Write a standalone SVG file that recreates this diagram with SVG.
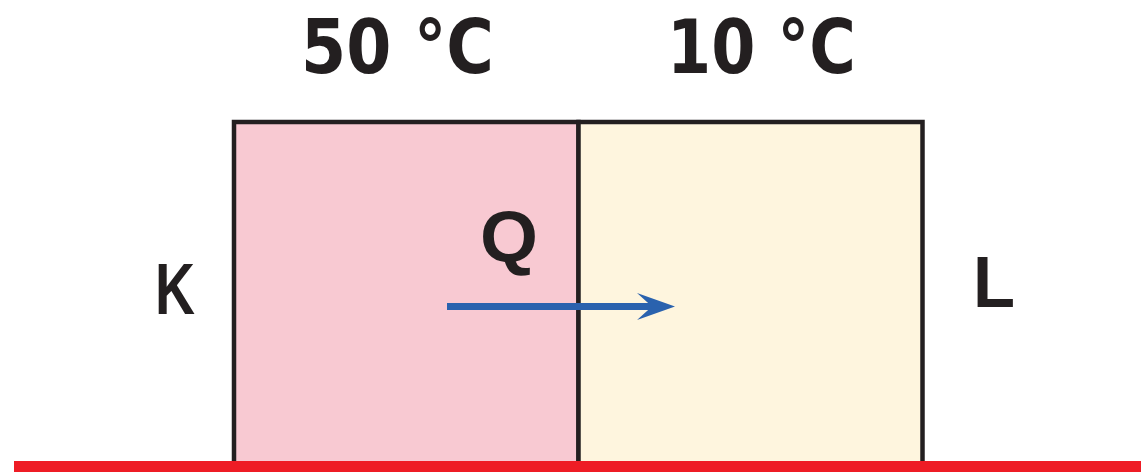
<svg xmlns="http://www.w3.org/2000/svg" width="1141" height="473" viewBox="0 0 1141 473">
<style>
.box{stroke:#231F20;stroke-width:4.5}
.lbl{font-family:"Liberation Sans",Arial,sans-serif;font-weight:bold;fill:#231F20}
.temp{font-family:"DejaVu Sans","Liberation Sans",sans-serif;font-weight:bold;fill:#231F20;font-size:74px}
</style>
<rect width="1141" height="473" fill="#ffffff"/>
<g id="block-K">
<rect class="box" x="234" y="122" width="344.5" height="345" fill="#F8C9D2"/>
<text class="lbl" x="155" y="314" font-size="72" textLength="40" lengthAdjust="spacingAndGlyphs">K</text>
<text class="temp" x="301" y="73" textLength="193" lengthAdjust="spacingAndGlyphs">50 °C</text>
</g>
<g id="block-L">
<rect class="box" x="578.5" y="122" width="344" height="345" fill="#FEF5DE"/>
<text class="lbl" x="973" y="307" font-size="72" textLength="42" lengthAdjust="spacingAndGlyphs">L</text>
<text class="temp" x="667" y="73" textLength="189" lengthAdjust="spacingAndGlyphs">10 °C</text>
</g>
<g id="surface">
<rect x="14" y="461" width="1127" height="11" fill="#EE1C25"/>
</g>
<g id="connectors">
<line x1="447" y1="306.5" x2="656" y2="306.5" stroke="#2A62AE" stroke-width="7"/>
<polygon points="675,306.5 637,293 652,306.5 637,320" fill="#2A62AE"/>
<text class="lbl" x="480" y="262" font-size="72" textLength="58" lengthAdjust="spacingAndGlyphs">Q</text>
</g>
</svg>
